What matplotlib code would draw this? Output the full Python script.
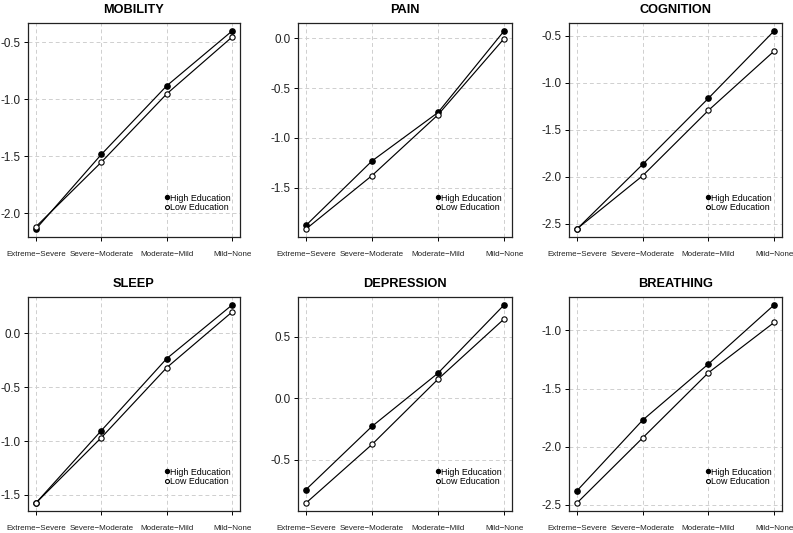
import numpy as np
import matplotlib
matplotlib.use("Agg")
import matplotlib.pyplot as plt
from matplotlib.ticker import MultipleLocator

plt.rcParams['font.family'] = ['Liberation Sans', 'DejaVu Sans']
plt.rcParams['axes.unicode_minus'] = False

# Data
categories = ["Extreme\u2212Severe", "Severe\u2212Moderate", "Moderate\u2212Mild", "Mild\u2212None"]
titles = ["MOBILITY", "PAIN", "COGNITION", "SLEEP", "DEPRESSION", "BREATHING"]

high_mobility = [-2.14, -1.485, -0.882, -0.40]
low_mobility = [-2.12, -1.553, -0.953, -0.453]
high_pain = [-1.879, -1.232, -0.745, 0.074]
low_pain = [-1.916, -1.379, -0.768, -0.003]
high_cognition = [-2.557, -1.868, -1.164, -0.446]
low_cognition = [-2.555, -1.989, -1.293, -0.661]
high_sleep = [-1.575, -0.904, -0.236, 0.261]
low_sleep = [-1.575, -0.969, -0.320, 0.196]
high_depression = [-0.742, -0.228, 0.204, 0.758]
low_depression = [-0.851, -0.375, 0.155, 0.644]
high_breathing = [-2.381, -1.772, -1.289, -0.780]
low_breathing = [-2.486, -1.925, -1.364, -0.931]

high = [high_mobility, high_pain, high_cognition, high_sleep, high_depression, high_breathing]
low = [low_mobility, low_pain, low_cognition, low_sleep, low_depression, low_breathing]

# Layout (figure fractions)
lefts = [28 / 793, 298 / 793, 569 / 793]
widths = [212 / 793, 214 / 793, 213 / 793]
bottoms = [(533 - 237) / 533, (533 - 511) / 533]
h = 214 / 533

fig = plt.figure(figsize=(7.93, 5.33), dpi=100)
x = np.arange(1, 5)

for i, title in enumerate(titles):
    r, c = divmod(i, 3)
    ax = fig.add_axes([lefts[c], bottoms[r], widths[c], h])
    ax.plot(x, high[i], color='black', lw=0.85, marker='o', ms=3.8,
            mfc='black', mec='black', label='High Education', zorder=3)
    ax.plot(x, low[i], color='black', lw=0.85, marker='o', ms=3.8,
            mfc='white', mec='black', mew=0.8, label='Low Education', zorder=3)

    vals = np.concatenate([high[i], low[i]])
    lo, hi = vals.min(), vals.max()
    pad = 0.04 * (hi - lo)
    ax.set_ylim(lo - pad, hi + pad)
    ax.set_xlim(0.88, 4.12)
    ax.yaxis.set_major_locator(MultipleLocator(0.5))
    ax.yaxis.set_major_formatter(matplotlib.ticker.FormatStrFormatter('%.1f'))
    ax.set_xticks(x)
    ax.set_xticklabels(categories, fontsize=5.8)
    ax.tick_params(axis='y', labelsize=8.4, length=3, width=0.7, pad=2.5, colors='black')
    ax.tick_params(axis='x', length=3, width=0.7, pad=7, colors='black')
    for lab in ax.get_yticklabels():
        lab.set_color('#222222')
    for lab in ax.get_xticklabels():
        lab.set_color('#222222')
    ax.grid(True, color='#cfcfcf', ls=(0, (4, 3)), lw=0.7)
    ax.set_axisbelow(True)
    for s in ax.spines.values():
        s.set_linewidth(0.9)
        s.set_color('#222222')
    ax.set_title(title, fontsize=9.2, fontweight='bold', pad=7)
    ax.legend(loc='center left', bbox_to_anchor=(0.625, 0.16), frameon=False,
              fontsize=6.4, handlelength=0.4, handletextpad=0.15, borderpad=0,
              labelspacing=0.05, markerscale=0.75)
    for line in ax.get_legend().get_lines():
        line.set_linestyle('none')

fig.savefig('out.png', dpi=100)
